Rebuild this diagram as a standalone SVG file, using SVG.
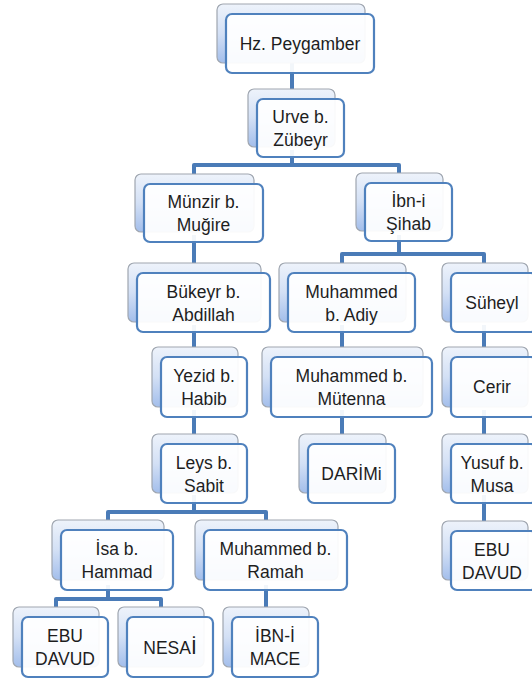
<svg xmlns="http://www.w3.org/2000/svg" width="532" height="682" viewBox="0 0 532 682">
<defs>
<linearGradient id="bg" x1="0" y1="0" x2="0" y2="1">
<stop offset="0" stop-color="#EEF3FB"/>
<stop offset="0.5" stop-color="#D3E0F5"/>
<stop offset="1" stop-color="#A3BEEB"/>
</linearGradient>
<style>
.back{fill:url(#bg);stroke:#9FA6B0;stroke-width:1.2}
.front{fill:#FFFFFF;fill-opacity:0.93;stroke:#4F81BD;stroke-width:2.2}
.t{font-family:"Liberation Sans",Arial,sans-serif;font-size:17.5px;fill:#1E1E1E;text-anchor:middle}
.c{fill:none;stroke:#4A7BB7;stroke-width:4;stroke-linejoin:round}
</style>
</defs>
<rect width="532" height="682" fill="#FFFFFF"/>
<g id="connectors">
<path class="c" d="M292 40 V100"/>
<path class="c" d="M292 150 V165"/>
<path class="c" d="M194 180 V165 H399 V180"/>
<path class="c" d="M194 235 V268"/>
<path class="c" d="M194 325 V352"/>
<path class="c" d="M194 410 V440"/>
<path class="c" d="M194 495 V512"/>
<path class="c" d="M108 525 V512 H266 V525"/>
<path class="c" d="M108 585 V599"/>
<path class="c" d="M56 612 V599 H161 V612"/>
<path class="c" d="M266 585 V612"/>
<path class="c" d="M399 235 V254"/>
<path class="c" d="M342 268 V254 H484 V268"/>
<path class="c" d="M342 325 V352"/>
<path class="c" d="M342 410 V440"/>
<path class="c" d="M484 325 V352"/>
<path class="c" d="M484 410 V440"/>
<path class="c" d="M484 495 V525"/>
</g>
<g id="hz">
<rect class="back" x="217" y="4" width="148" height="59" rx="6"/>
<rect class="front" x="226" y="14" width="148" height="59" rx="6"/>
<text class="t" x="300" y="49.5">Hz. Peygamber</text>
</g>
<g id="urve">
<rect class="back" x="248" y="89" width="87" height="58" rx="6"/>
<rect class="front" x="257" y="99" width="87" height="58" rx="6"/>
<text class="t" x="300.5" y="123">Urve b.</text>
<text class="t" x="300.5" y="146">Zübeyr</text>
</g>
<g id="munzir">
<rect class="back" x="135" y="174" width="119" height="58" rx="6"/>
<rect class="front" x="144" y="184" width="119" height="58" rx="6"/>
<text class="t" x="203.5" y="208">Münzir b.</text>
<text class="t" x="203.5" y="231">Muğire</text>
</g>
<g id="ibni">
<rect class="back" x="356" y="173" width="87" height="58" rx="6"/>
<rect class="front" x="365" y="183" width="87" height="58" rx="6"/>
<text class="t" x="408.5" y="207">İbn-i</text>
<text class="t" x="408.5" y="230">Şihab</text>
</g>
<g id="bukeyr">
<rect class="back" x="128" y="263" width="133" height="59" rx="6"/>
<rect class="front" x="137" y="273" width="133" height="59" rx="6"/>
<text class="t" x="203.5" y="297.5">Bükeyr b.</text>
<text class="t" x="203.5" y="320.5">Abdillah</text>
</g>
<g id="adiy">
<rect class="back" x="279" y="263" width="127" height="59" rx="6"/>
<rect class="front" x="288" y="273" width="127" height="59" rx="6"/>
<text class="t" x="351.5" y="297.5">Muhammed</text>
<text class="t" x="351.5" y="320.5">b. Adiy</text>
</g>
<g id="suheyl">
<rect class="back" x="442" y="263" width="86" height="59" rx="6"/>
<rect class="front" x="451" y="273" width="86" height="59" rx="6"/>
<text class="t" x="492" y="309">Süheyl</text>
</g>
<g id="yezid">
<rect class="back" x="152" y="347" width="86" height="60" rx="6"/>
<rect class="front" x="161" y="357" width="86" height="60" rx="6"/>
<text class="t" x="204" y="382">Yezid b.</text>
<text class="t" x="204" y="405">Habib</text>
</g>
<g id="mutenna">
<rect class="back" x="262" y="347" width="161" height="60" rx="6"/>
<rect class="front" x="271" y="357" width="161" height="60" rx="6"/>
<text class="t" x="351.5" y="382">Muhammed b.</text>
<text class="t" x="351.5" y="405">Mütenna</text>
</g>
<g id="cerir">
<rect class="back" x="442" y="347" width="86" height="60" rx="6"/>
<rect class="front" x="451" y="357" width="86" height="60" rx="6"/>
<text class="t" x="492" y="393">Cerir</text>
</g>
<g id="leys">
<rect class="back" x="152" y="434" width="86" height="59" rx="6"/>
<rect class="front" x="161" y="444" width="86" height="59" rx="6"/>
<text class="t" x="204" y="468.5">Leys b.</text>
<text class="t" x="204" y="491.5">Sabit</text>
</g>
<g id="darimi">
<rect class="back" x="299" y="434" width="87" height="59" rx="6"/>
<rect class="front" x="308" y="444" width="87" height="59" rx="6"/>
<text class="t" x="351.5" y="480">DARİMi</text>
</g>
<g id="yusuf">
<rect class="back" x="442" y="434" width="86" height="59" rx="6"/>
<rect class="front" x="451" y="444" width="86" height="59" rx="6"/>
<text class="t" x="492" y="468.5">Yusuf b.</text>
<text class="t" x="492" y="491.5">Musa</text>
</g>
<g id="isa">
<rect class="back" x="52" y="520" width="112" height="60" rx="6"/>
<rect class="front" x="61" y="530" width="112" height="60" rx="6"/>
<text class="t" x="117" y="555">İsa b.</text>
<text class="t" x="117" y="578">Hammad</text>
</g>
<g id="ramah">
<rect class="back" x="195" y="520" width="143" height="60" rx="6"/>
<rect class="front" x="204" y="530" width="143" height="60" rx="6"/>
<text class="t" x="275.5" y="555">Muhammed b.</text>
<text class="t" x="275.5" y="578">Ramah</text>
</g>
<g id="ebudavud2">
<rect class="back" x="442" y="521" width="86" height="59" rx="6"/>
<rect class="front" x="451" y="531" width="86" height="59" rx="6"/>
<text class="t" x="492" y="555.5">EBU</text>
<text class="t" x="492" y="578.5">DAVUD</text>
</g>
<g id="ebudavud1">
<rect class="back" x="13" y="607" width="86" height="60" rx="6"/>
<rect class="front" x="22" y="617" width="86" height="60" rx="6"/>
<text class="t" x="65" y="642">EBU</text>
<text class="t" x="65" y="665">DAVUD</text>
</g>
<g id="nesai">
<rect class="back" x="118" y="607" width="86" height="60" rx="6"/>
<rect class="front" x="127" y="617" width="86" height="60" rx="6"/>
<text class="t" x="170" y="653.5">NESA<tspan font-size="21">İ</tspan></text>
</g>
<g id="ibnmace">
<rect class="back" x="223" y="607" width="86" height="60" rx="6"/>
<rect class="front" x="232" y="617" width="86" height="60" rx="6"/>
<text class="t" x="275" y="642">İBN-İ</text>
<text class="t" x="275" y="665">MACE</text>
</g>
</svg>
